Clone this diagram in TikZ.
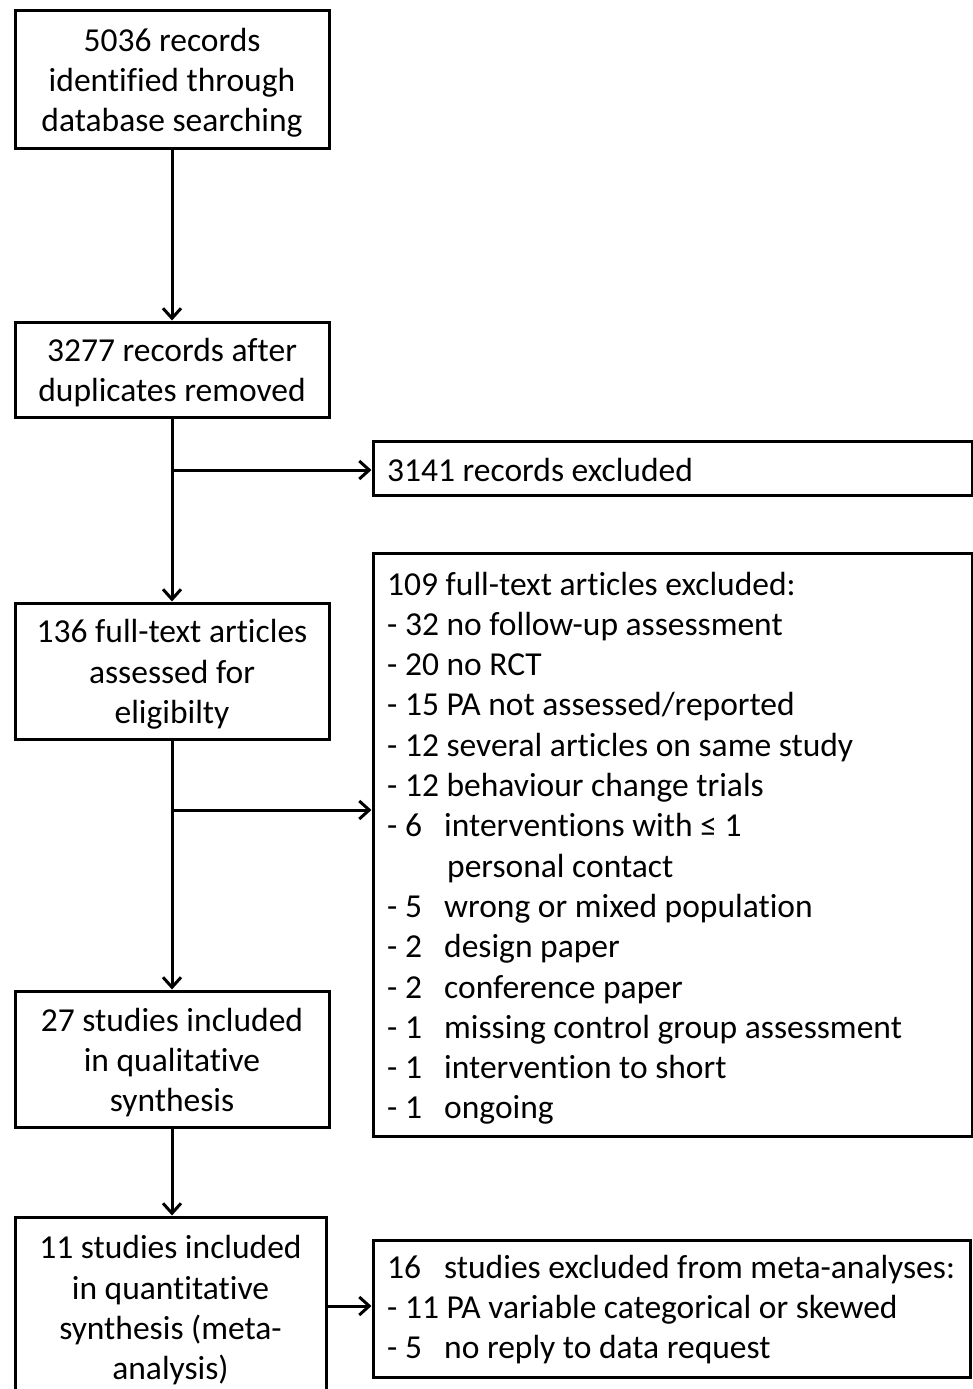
\documentclass[tikz,border=0pt]{standalone}
\usepackage{fontspec}
\setmainfont{Carlito}[Ligatures={NoCommon}]
\usetikzlibrary{arrows.meta}
\newcommand{\fstrut}{\rule{0pt}{30pt}}
\begin{document}
\begin{tikzpicture}[x=1pt,y=-1pt,
  box/.style={draw,line width=3pt,inner sep=0pt,align=center,font=\fontsize{33.5}{40.3}\selectfont},
  txt/.style={anchor=base west,inner sep=0pt,font=\fontsize{33.5}{40.3}\selectfont},
  arr/.style={line width=3pt,-{Straight Barb[length=10pt,width=18pt,line width=3pt]}}]
\useasboundingbox (0,0) rectangle (973,1389);
% left column boxes
\node[box,minimum width=314pt,minimum height=137pt] (b1) at (172,79.5) {\fstrut 5036 records\\identified through\\database searching};
\node[box,minimum width=314pt,minimum height=95pt] (b2) at (172,369.5) {\fstrut 3277 records after\\duplicates removed};
\node[box,minimum width=314pt,minimum height=136pt] (b4) at (172,671) {\fstrut 136 full-text articles\\assessed for\\eligibilty};
\node[box,minimum width=314pt,minimum height=136pt] (b6) at (172,1059) {\fstrut 27 studies included\\in qualitative\\synthesis};
\node[box,minimum width=311pt,minimum height=180pt] (b7) at (170.5,1307) {\fstrut 11 studies included\\in quantitative\\synthesis (meta-\\analysis)};
% right column boxes
\node[box,minimum width=599pt,minimum height=54pt] (b3) at (672.5,468) {};
\node[box,minimum width=599pt,minimum height=583pt] (b5) at (672.5,844.5) {};
\node[box,minimum width=597pt,minimum height=137pt] (b8) at (671.5,1308.5) {};
% box 3 text
\node[txt] (t3) at (387,481) {3141 records excluded};
% box 5 text
\node[txt] (t5a) at (387,595) {109 full-text articles excluded:};
\node[txt] (t5b) at (387,635.3) {- 32 no follow-up assessment};
\node[txt] (t5c) at (387,675.6) {- 20 no RCT};
\node[txt] (t5d) at (387,715.9) {- 15 PA not assessed/reported};
\node[txt] (t5e) at (387,756.2) {- 12 several articles on same study};
\node[txt] (t5f) at (387,796.5) {- 12 behaviour change trials};
\node[txt] (t5g) at (387,836.8) {- 6};
\node[txt] (t5g2) at (444,836.8) {interventions with ≤ 1};
\node[txt] (t5h) at (447,877.1) {personal contact};
\node[txt] (t5i) at (387,917.4) {- 5};
\node[txt] (t5i2) at (444,917.4) {wrong or mixed population};
\node[txt] (t5j) at (387,957.7) {- 2};
\node[txt] (t5j2) at (444,957.7) {design paper};
\node[txt] (t5k) at (387,998) {- 2};
\node[txt] (t5k2) at (444,998) {conference paper};
\node[txt] (t5l) at (387,1038.3) {- 1};
\node[txt] (t5l2) at (444,1038.3) {missing control group assessment};
\node[txt] (t5m) at (387,1078.6) {- 1};
\node[txt] (t5m2) at (444,1078.6) {intervention to short};
\node[txt] (t5n) at (387,1118.9) {- 1};
\node[txt] (t5n2) at (444,1118.9) {ongoing};
% box 8 text
\node[txt] (t8a) at (387,1278) {16};
\node[txt] (t8a2) at (444,1278) {studies excluded from meta-analyses:};
\node[txt] (t8b) at (387,1318) {- 11 PA variable categorical or skewed};
\node[txt] (t8c) at (387,1358) {- 5};
\node[txt] (t8c2) at (444,1358) {no reply to data request};
% connectors
\coordinate (j1) at (173,470);
\coordinate (j2) at (173,810);
\draw[arr] (b1.south) -- (b2.north);
\draw[arr] (b2.south) -- (b4.north);
\draw[arr] (j1) -- (j1 -| b3.west);
\draw[arr] (b4.south) -- (b6.north);
\draw[arr] (j2) -- (j2 -| b5.west);
\draw[arr] (b6.south) -- (b6.south |- b7.north);
\coordinate (j3) at (b7.east |- 0,1306);
\draw[arr] (j3) -- (j3 -| b8.west);
\end{tikzpicture}
\end{document}
